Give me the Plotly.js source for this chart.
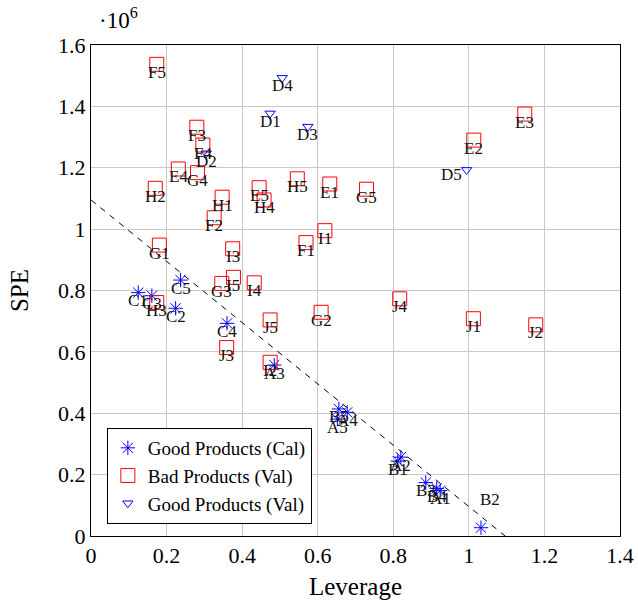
<!DOCTYPE html>
<html>
<head>
<meta charset="utf-8">
<script src="https://cdn.plot.ly/plotly-3.0.1.min.js"></script>
<style>html,body{margin:0;padding:0;background:#fff;}#chart{width:638px;height:608px;}</style>
</head>
<body>
<div id="chart"></div>
<script>
// Good Products (Calibration)
var calNames = ['A1','A2','A3','A4','A5','B1','B2','B3','B4','B5','C1','C2','C3','C4','C5'];
var calLev   = [0.924,0.820,0.485,0.678,0.652,0.812,1.032,0.886,0.915,0.656,0.125,0.224,0.161,0.360,0.237];
var calSPE   = [0.148,0.257,0.557,0.403,0.381,0.244,0.027,0.174,0.155,0.414,0.793,0.742,0.783,0.693,0.834]; // x10^6

// Bad Products (Validation)
var badNames = ['E1','E2','E3','E4','E5','F1','F2','F3','F4','F5','G1','G2','G3','G4','G5',
                'H1','H2','H3','H4','H5','I1','I2','I3','I4','I5','J1','J2','J3','J4','J5'];
var badLev   = [0.632,1.013,1.148,0.231,0.445,0.569,0.326,0.280,0.296,0.174,0.181,0.609,0.346,0.282,0.729,
                0.347,0.170,0.174,0.458,0.546,0.619,0.474,0.375,0.432,0.377,1.012,1.177,0.359,0.817,0.474];
var badSPE   = [1.147,1.290,1.375,1.196,1.135,0.956,1.037,1.332,1.274,1.537,0.948,0.729,0.823,1.184,1.130,
                1.104,1.133,0.761,1.095,1.164,0.995,0.566,0.936,0.825,0.843,0.708,0.688,0.614,0.773,0.704];

// Good Products (Validation)
var valNames = ['D1','D2','D3','D4','D5'];
var valLev   = [0.474,0.305,0.574,0.506,0.994];
var valSPE   = [1.377,1.247,1.334,1.493,1.193];

// Limit line (dashed)
var limitLev = [0, 1.096];
var limitSPE = [1.095, 0];

var FONT = '"Liberation Serif", serif';

var traces = [
  {x: limitLev, y: limitSPE, mode: 'lines', showlegend: false, hoverinfo: 'skip',
   line: {color: 'black', width: 1, dash: '6px,6px'}},
  {x: calLev, y: calSPE, mode: 'markers', name: 'Good Products (Cal)',
   marker: {symbol: 'asterisk-open', size: 12, color: 'blue', line: {color: 'blue', width: 1}}},
  {x: badLev, y: badSPE, mode: 'markers', name: 'Bad Products (Val)',
   marker: {symbol: 'square-open', size: 14, color: 'red', line: {color: 'red', width: 1}}},
  {x: valLev, y: valSPE, mode: 'markers', name: 'Good Products (Val)',
   marker: {symbol: 'triangle-down-open', size: 9, color: 'blue', line: {color: 'blue', width: 1}}}
];

var labelShift = {D5: [-15, -5], B2: [9, 28]};
var annotations = [];
function addLabels(names, xs, ys) {
  for (var i = 0; i < names.length; i++) {
    var s = labelShift[names[i]] || [0, -8];
    annotations.push({x: xs[i], y: ys[i], xref: 'x', yref: 'y', text: names[i], showarrow: false,
      xshift: s[0], yshift: s[1], font: {family: FONT, size: 17, color: '#111'}});
  }
}
addLabels(calNames, calLev, calSPE);
addLabels(badNames, badLev, badSPE);
addLabels(valNames, valLev, valSPE);

annotations.push({xref: 'paper', yref: 'paper', x: 0, y: 1, xanchor: 'left', yanchor: 'middle',
  xshift: 6, yshift: 27, showarrow: false, text: '\u00b710<sup>6</sup>',
  font: {family: FONT, size: 23, color: 'black'}});

var axisCommon = {
  showgrid: true, gridcolor: '#c8c8c8', gridwidth: 1, zeroline: false,
  showline: true, linecolor: 'black', linewidth: 1, mirror: true, ticks: '',
  tickfont: {family: FONT, size: 22, color: 'black'}
};

var layout = {
  width: 638, height: 608,
  margin: {l: 91, r: 18, t: 45, b: 72},
  paper_bgcolor: 'white', plot_bgcolor: 'white',
  font: {family: FONT, color: 'black'},
  xaxis: Object.assign({}, axisCommon, {range: [0, 1.4], tick0: 0, dtick: 0.2,
    title: {text: 'Leverage', font: {family: FONT, size: 25}, standoff: 10}}),
  yaxis: Object.assign({}, axisCommon, {range: [0, 1.6], tick0: 0, dtick: 0.2,
    title: {text: 'SPE', font: {family: FONT, size: 25}, standoff: 22}}),
  legend: {x: 0.03, y: 0.22, xanchor: 'left', yanchor: 'top', bgcolor: 'white',
    bordercolor: 'black', borderwidth: 1, font: {family: FONT, size: 19, color: 'black'},
    tracegroupgap: 0, itemwidth: 30},
  annotations: annotations,
  showlegend: true
};

Plotly.newPlot('chart', traces, layout, {displayModeBar: false, staticPlot: true});
</script>
</body>
</html>
